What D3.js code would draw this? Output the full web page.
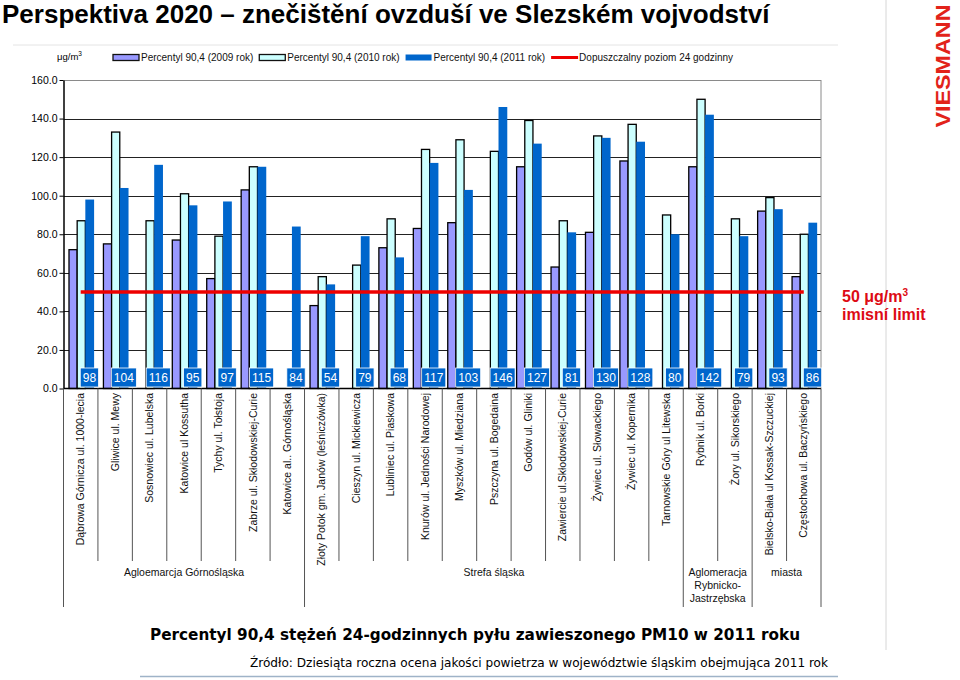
<!DOCTYPE html>
<html>
<head>
<meta charset="utf-8">
<script src="https://cdn.jsdelivr.net/npm/d3@7/dist/d3.min.js"></script>
<style>
  body { margin: 0; background: #fff; }
  svg { display: block; }
  .narrow { font-family: "Liberation Sans Narrow", "Arial Narrow", "Liberation Sans", Arial, sans-serif; }
</style>
</head>
<body>
<script>
// chart data
var categories = [
  'Dąbrowa Górnicza ul. 1000-lecia', 'Gliwice ul. Mewy', 'Sosnowiec ul. Lubelska',
  'Katowice ul Kossutha', 'Tychy ul. Tołstoja', 'Zabrze ul. Skłodowskiej-Curie',
  'Katowice al.. Górnośląska', 'Złoty Potok gm. Janów (leśniczówka)', 'Cieszyn ul. Mickiewicza',
  'Lubliniec ul. Piaskowa', 'Knurów ul. Jedności Narodowej', 'Myszków ul. Miedziana',
  'Pszczyna ul. Bogedaina', 'Godów ul. Gliniki', 'Zawiercie ul.Skłodowskiej-Curie',
  'Żywiec ul. Słowackiego', 'Żywiec ul. Kopernika', 'Tarnowskie Góry ul Litewska',
  'Rybnik ul. Borki', 'Żory ul. Sikorskiego', 'Bielsko-Biała ul Kossak-Szczuckiej',
  'Częstochowa ul. Baczyńskiego'
];
var values2009 = [72, 75, null, 77, 57, 103, null, 43, null, 73, 83, 86, null, 115, 63, 81, 118, null, 115, null, 92, 58];
var values2010 = [87, 133, 87, 101, 79, 115, null, 58, 64, 88, 124, 129, 123, 139, 87, 131, 137, 90, 150, 88, 99, 80];
var values2011 = [98, 104, 116, 95, 97, 115, 84, 54, 79, 68, 117, 103, 146, 127, 81, 130, 128, 80, 142, 79, 93, 86];
var limitValue = 50;

var groupNames = [['Agloemarcja Górnośląska'], ['Strefa śląska'], ['Aglomeracja', 'Rybnicko-', 'Jastrzębska'], ['miasta']];
var groupSizes = [7, 11, 2, 2];

var yTicks = [0, 20, 40, 60, 80, 100, 120, 140, 160];
var seriesKeys = ['2009', '2010', '2011'];
var legendLabels = ['Percentyl 90,4 (2009 rok)', 'Percentyl 90,4 (2010 rok)', 'Percentyl 90,4 (2011 rok)', 'Dopuszczalny poziom 24 godzinny'];

var colors = { '2009': '#9999ff', '2010': '#ccffff', '2011': '#0066cc' };

var width = 960, height = 680;
var plotLeft = 63.5, plotRight = 821, plotTop = 80, plotBottom = 388.5;

var svg = d3.select('body').append('svg').attr('width', width).attr('height', height);

var x = d3.scaleBand().domain(categories).range([plotLeft, plotRight]);
var xInner = d3.scaleBand().domain(seriesKeys).range([5.5, 30]);
var y = d3.scaleLinear().domain([0, 160]).range([plotBottom, plotTop]);

// title
svg.append('text').attr('x', 2).attr('y', 23)
  .style('font-family', '"Liberation Sans", Arial, sans-serif')
  .style('font-weight', 'bold').style('font-size', '26px')
  .text('Perspektiva 2020 – znečištění ovzduší ve Slezském vojvodství');

// faint frame lines of the pasted chart
svg.append('line').attr('x1', 13).attr('x2', 838).attr('y1', 45).attr('y2', 45)
  .attr('stroke', '#e4e4e4').attr('stroke-width', 1);
svg.append('line').attr('x1', 886).attr('x2', 886).attr('y1', 0).attr('y2', 650)
  .attr('stroke', '#d6d6d6').attr('stroke-width', 1);

// gridlines
svg.append('g').selectAll('line').data(yTicks.filter(function (d) { return d > 0; }))
  .enter().append('line')
  .attr('x1', plotLeft).attr('x2', plotRight)
  .attr('y1', function (d) { return Math.round(y(d)) + 0.5; })
  .attr('y2', function (d) { return Math.round(y(d)) + 0.5; })
  .attr('stroke', function (d) { return d === 160 ? '#8a8a8a' : '#222'; })
  .attr('stroke-width', 1);
svg.append('line').attr('x1', plotRight).attr('x2', plotRight).attr('y1', plotTop).attr('y2', plotBottom)
  .attr('stroke', '#8a8a8a');

// y axis
var yAxis = d3.axisLeft(y).tickValues(yTicks).tickFormat(d3.format('.1f')).tickSize(4).tickSizeOuter(0);
var yg = svg.append('g').attr('transform', 'translate(' + plotLeft + ',0)').call(yAxis);
yg.select('.domain').attr('stroke', '#000').attr('stroke-width', 1.5);
yg.selectAll('.tick line').attr('stroke', '#000');
yg.selectAll('.tick text').attr('class', null)
  .style('font-family', '"Liberation Sans", Arial, sans-serif').style('font-size', '10.5px').attr('fill', '#000').attr('x', -6);

// bars
var bars = svg.append('g');
seriesKeys.forEach(function (key, k) {
  var vals = [values2009, values2010, values2011][k];
  bars.selectAll('rect.s' + key)
    .data(vals.map(function (v, i) { return { cat: categories[i], v: v }; }).filter(function (d) { return d.v !== null; }))
    .enter().append('rect')
    .attr('class', 's' + key)
    .attr('x', function (d) { return x(d.cat) + xInner(key); })
    .attr('width', xInner.bandwidth() + (key === '2011' ? 0.6 : 0))
    .attr('y', function (d) { return y(d.v); })
    .attr('height', function (d) { return y(0) - y(d.v); })
    .attr('fill', colors[key])
    .attr('stroke', key === '2011' ? 'none' : '#000')
    .attr('stroke-width', 1.3);
});

// x axis baseline
svg.append('line').attr('x1', plotLeft).attr('x2', plotRight).attr('y1', plotBottom).attr('y2', plotBottom)
  .attr('stroke', '#000').attr('stroke-width', 1.5);

// limit line
svg.append('line')
  .attr('x1', x(categories[0]) + x.bandwidth() / 2)
  .attr('x2', x(categories[categories.length - 1]) + x.bandwidth() / 2)
  .attr('y1', y(limitValue)).attr('y2', y(limitValue))
  .attr('stroke', '#ee0000').attr('stroke-width', 3.5);

// value boxes at the foot of the 2011 bars
var labels = svg.append('g').selectAll('g').data(values2011).enter().append('g')
  .attr('transform', function (d, i) {
    return 'translate(' + (x(categories[i]) + xInner('2011') + xInner.bandwidth() / 2) + ',' + 377.5 + ')';
  });
labels.append('rect').attr('fill', '#0066cc').attr('stroke', '#fff').attr('stroke-width', 0.8);
labels.append('text').attr('class', 'narrow')
  .attr('text-anchor', 'middle').attr('dy', '0.36em')
  .style('font-size', '12px').attr('fill', '#fff')
  .text(function (d) { return d; });
labels.each(function () {
  var g = d3.select(this);
  var w = g.select('text').node().getComputedTextLength() + 5;
  g.select('rect').attr('x', -w / 2).attr('y', -9.5).attr('width', w).attr('height', 19);
});

// category separators and group separators
var bounds = [0];
groupSizes.forEach(function (n) { bounds.push(bounds[bounds.length - 1] + n); });
var sep = svg.append('g');
for (var i = 0; i <= categories.length; i++) {
  var sx = plotLeft + i * x.bandwidth();
  var isGroup = bounds.indexOf(i) >= 0;
  sep.append('line').attr('x1', sx).attr('x2', sx)
    .attr('y1', plotBottom).attr('y2', isGroup ? 607 : 561)
    .attr('stroke', '#555').attr('stroke-width', 1);
}

// category labels
svg.append('g').selectAll('text').data(categories).enter().append('text')
  .attr('class', 'narrow')
  .attr('transform', function (d) { return 'translate(' + (x(d) + x.bandwidth() / 2) + ',393) rotate(-90)'; })
  .attr('text-anchor', 'end').attr('dy', '0.35em')
  .style('font-size', '10.5px').attr('fill', '#111')
  .text(function (d) { return d; });

// group labels
groupNames.forEach(function (lines, gi) {
  var cx = plotLeft + (bounds[gi] + bounds[gi + 1]) / 2 * x.bandwidth();
  lines.forEach(function (t, li) {
    svg.append('text').attr('class', 'narrow')
      .attr('x', cx).attr('y', 576 + li * 13)
      .attr('text-anchor', 'middle').style('font-size', '10.5px').attr('fill', '#111')
      .text(t);
  });
});

// legend
svg.append('text').attr('class', 'narrow').attr('x', 57).attr('y', 60).style('font-size', '9.5px')
  .text('μg/m').append('tspan').attr('dy', -4).style('font-size', '6.5px').text('3');
var lx = 113;
legendLabels.forEach(function (t, i) {
  if (i < 3) {
    svg.append('rect').attr('x', lx).attr('y', 54.5).attr('width', 26).attr('height', 6)
      .attr('fill', colors[seriesKeys[i]])
      .attr('stroke', i < 2 ? '#111' : 'none').attr('stroke-width', 1.3);
  } else {
    svg.append('line').attr('x1', lx).attr('x2', lx + 27).attr('y1', 57.5).attr('y2', 57.5)
      .attr('stroke', '#ee0000').attr('stroke-width', 3);
  }
  var tx = svg.append('text').attr('class', 'narrow').attr('x', lx + 28).attr('y', 61)
    .style('font-size', '10px').attr('fill', '#111').text(t);
  lx = lx + 28 + tx.node().getComputedTextLength() + 6;
});

// annotation of the limit
var note = svg.append('g').style('font-family', '"Liberation Sans", Arial, sans-serif')
  .style('font-weight', 'bold').style('font-size', '16px').attr('fill', '#dd0a14');
var n1 = note.append('text').attr('x', 842).attr('y', 302).text('50 μg/m');
n1.append('tspan').attr('dy', -6).style('font-size', '10px').text('3');
note.append('text').attr('x', 842).attr('y', 320).text('imisní limit');

// logo
svg.append('text').attr('transform', 'translate(950,66) rotate(-90)')
  .attr('text-anchor', 'middle')
  .style('font-family', '"Liberation Sans", Arial, sans-serif').style('font-weight', 'bold')
  .style('font-size', '20px').attr('fill', '#e2231a')
  .attr('textLength', 123).attr('lengthAdjust', 'spacingAndGlyphs')
  .text('VIESMANN');

// captions below the chart
svg.append('text').attr('x', 150).attr('y', 640)
  .style('font-family', '"DejaVu Sans Condensed", "DejaVu Sans", sans-serif')
  .style('font-weight', 'bold').style('font-size', '15.5px')
  .attr('textLength', 650).attr('lengthAdjust', 'spacingAndGlyphs')
  .text('Percentyl 90,4 stężeń 24-godzinnych pyłu zawieszonego PM10 w 2011 roku');
svg.append('text').attr('x', 250).attr('y', 667)
  .style('font-family', '"DejaVu Sans Condensed", "DejaVu Sans", sans-serif')
  .style('font-size', '13px')
  .attr('textLength', 578).attr('lengthAdjust', 'spacingAndGlyphs')
  .text('Źródło: Dziesiąta roczna ocena jakości powietrza w województwie śląskim obejmująca 2011 rok');
svg.append('line').attr('x1', 140).attr('x2', 838).attr('y1', 676.5).attr('y2', 676.5)
  .attr('stroke', '#9fb3c8').attr('stroke-width', 1.5);
</script>
</body>
</html>
